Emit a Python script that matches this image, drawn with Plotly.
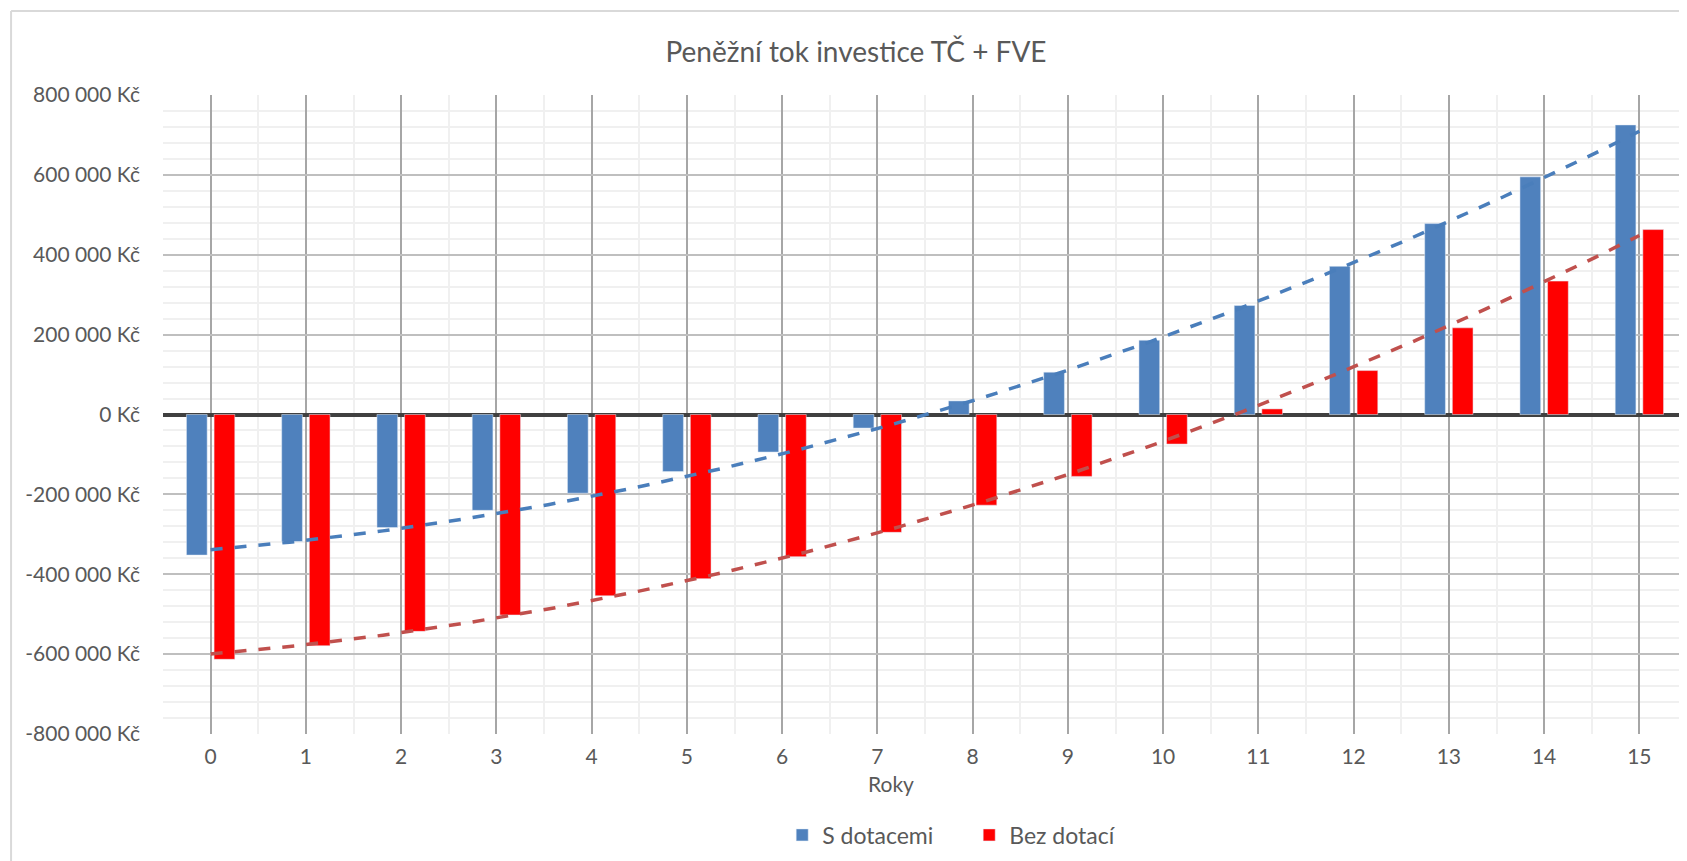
import numpy as np
import plotly.graph_objects as go

roky = list(range(16))
s_dotacemi = [-352000, -318000, -283000, -240000, -197000, -143000, -94000, -34000,
              34000, 106000, 186000, 273000, 371000, 478000, 595000, 725000]
bez_dotaci = [-613000, -579000, -543000, -502000, -454000, -411000, -356000, -295000,
              -227000, -155000, -74000, 14000, 110000, 217000, 334000, 463000]
y_ticks = [-800000, -600000, -400000, -200000, 0, 200000, 400000, 600000, 800000]
y_labels = [f"{v:,}".replace(",", " ") + " Kč" for v in y_ticks]

FONT = "Lato"
TXT = "#595959"
BLUE = "#4F81BD"
RED = "#FF0000"

fig = go.Figure()
fig.add_trace(go.Bar(x=roky, y=s_dotacemi, name="S dotacemi", marker_color=BLUE))
fig.add_trace(go.Bar(x=roky, y=bez_dotaci, name="Bez dotací", marker_color=RED))

# polynomial (2nd order) trendlines like the Excel original
xs = np.linspace(0, 15, 200)
for vals, col in [(s_dotacemi, "#4A7EBB"), (bez_dotaci, "#C0504D")]:
    coef = np.polyfit(roky, vals, 2)
    fig.add_trace(go.Scatter(x=xs, y=np.polyval(coef, xs), mode="lines", showlegend=False,
                             line=dict(color=col, width=3.5, dash="12px,12px"), hoverinfo="skip"))

# page has an 8px body margin, so the figure is 8px smaller and shifted
fig.update_layout(
    width=1679, height=853,
    margin=dict(l=155, r=0, t=87, b=127),
    paper_bgcolor="white", plot_bgcolor="white",
    barmode="group", bargap=0.42, bargroupgap=0.25,
    font=dict(family=FONT, color=TXT, size=21),
    title=dict(text="Peněžní tok investice TČ + FVE", x=848 / 1679, y=1 - 44 / 853,
               xanchor="center", yanchor="middle", font=dict(size=28, color=TXT)),
    legend=dict(orientation="h", x=0.529, y=-0.158, xanchor="center", yanchor="middle",
                font=dict(size=23, color=TXT), itemwidth=30, entrywidth=142,
                traceorder="normal"),
    xaxis=dict(range=[-0.5, 15.5], tickmode="linear", tick0=0, dtick=1,
               showgrid=True, gridcolor="#A6A6A6", gridwidth=2,
               minor=dict(dtick=0.5, tick0=0.5, showgrid=True, gridcolor="#F0F0F0", gridwidth=2),
               zeroline=False, showline=False, ticks="", ticklabelstandoff=8,
               tickfont=dict(size=21, color=TXT)),
    yaxis=dict(range=[-800000, 800000], tickvals=y_ticks, ticktext=y_labels,
               showgrid=True, gridcolor="#BFBFBF", gridwidth=2,
               minor=dict(dtick=40000, showgrid=True, gridcolor="#F0F0F0", gridwidth=2),
               zeroline=True, zerolinecolor="#404040", zerolinewidth=4,
               showline=False, ticks="", ticklabelstandoff=22,
               tickfont=dict(size=21, color=TXT)),
    annotations=[dict(text="Roky", xref="paper", yref="paper", x=0.478, y=-0.100,
                      showarrow=False, font=dict(size=21, color=TXT))],
    shapes=[
        dict(type="line", xref="paper", yref="paper", x0=-0.0997, x1=-0.0997, y0=-0.3, y1=1.1315,
             line=dict(color="#D9D9D9", width=2)),
        dict(type="line", xref="paper", yref="paper", x0=-0.0997, x1=1.1, y0=1.1315, y1=1.1315,
             line=dict(color="#D9D9D9", width=2)),
    ],
)

fig.write_html("out.html")
